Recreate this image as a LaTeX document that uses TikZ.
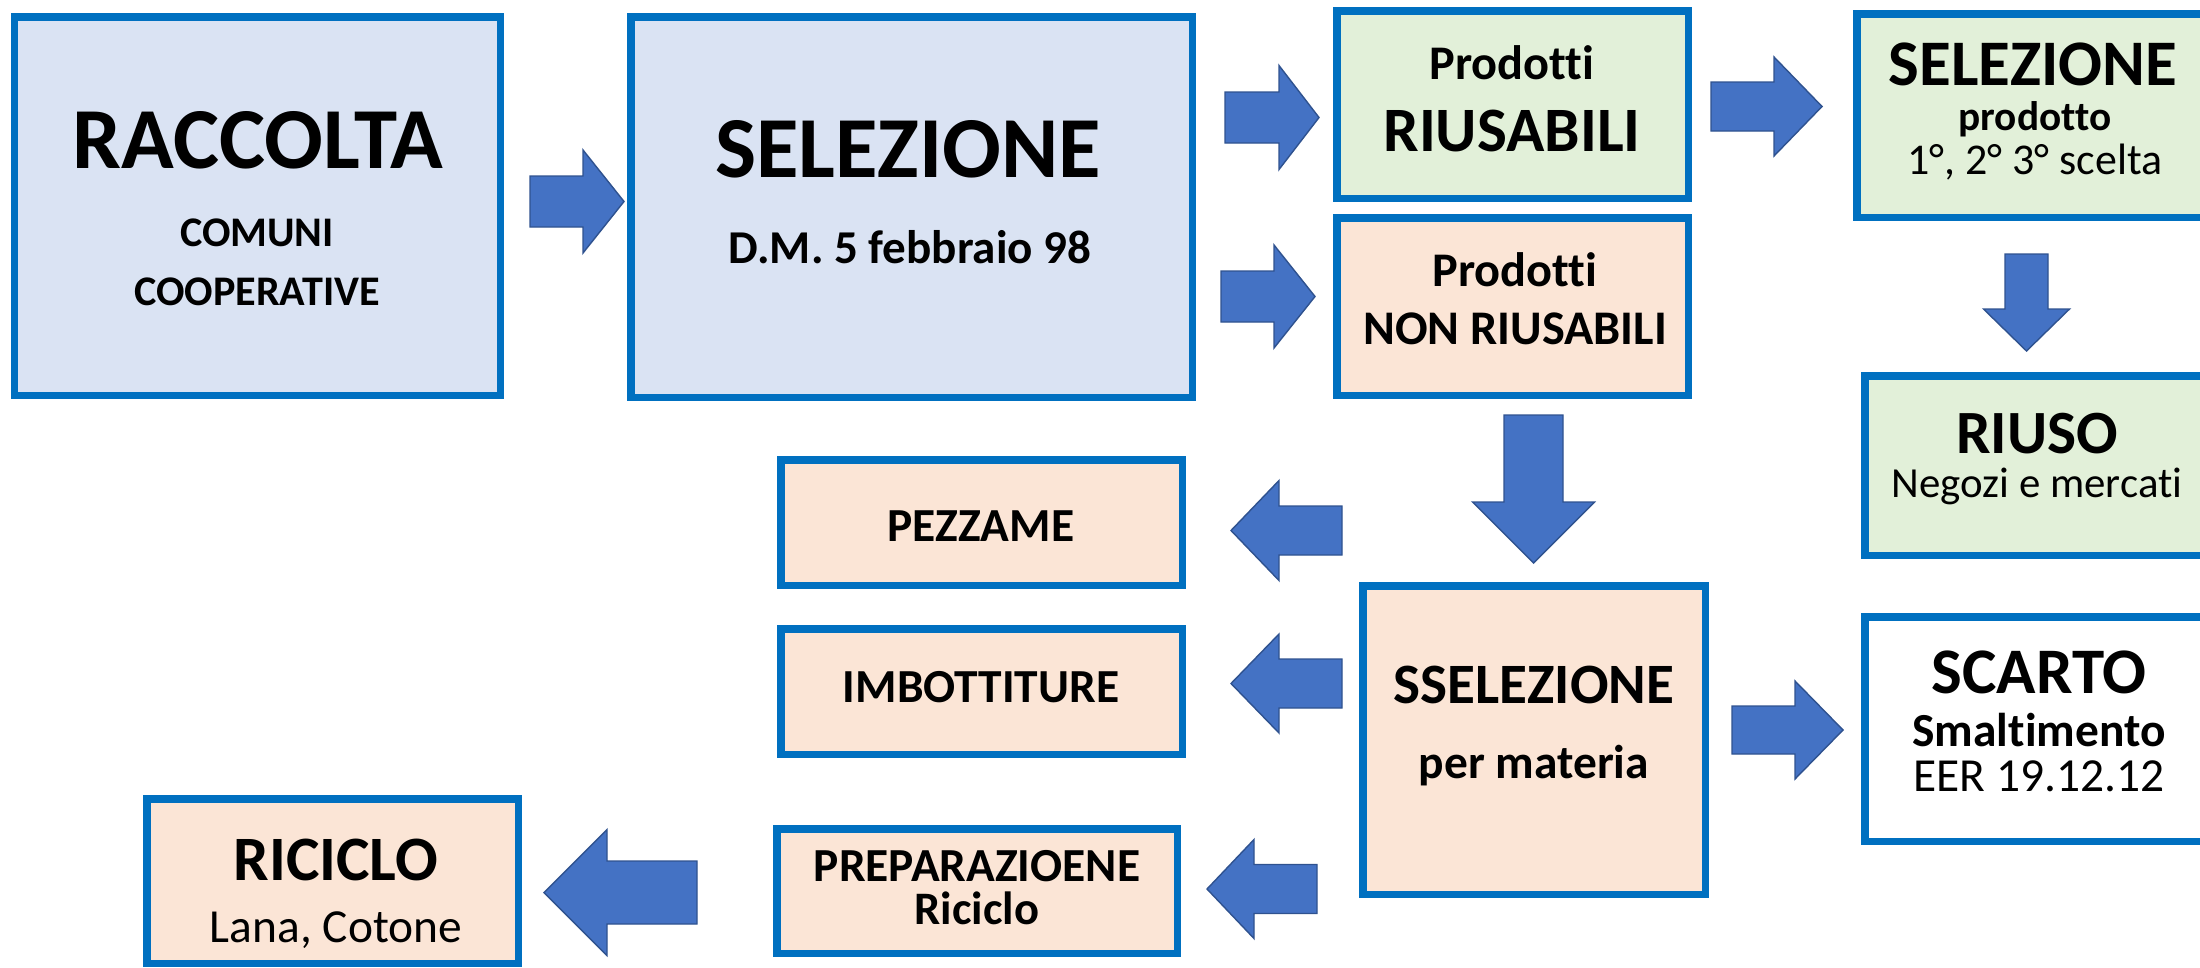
\documentclass[tikz,border=0pt]{standalone}
\usepackage{fontspec}
\setmainfont{Carlito}[Ligatures={NoCommon}]
\definecolor{boxblue}{HTML}{0070C0}
\definecolor{fillblue}{HTML}{DAE3F3}
\definecolor{fillgreen}{HTML}{E2F0D9}
\definecolor{fillpeach}{HTML}{FBE5D6}
\definecolor{arrfill}{HTML}{4472C4}
\definecolor{arredge}{HTML}{2F528F}
\newcommand\fsz[1]{\fontsize{#1}{#1}\selectfont}
% right/left block arrow: tail x, base x, tip x, y centre, shaft half, head half
\newcommand\blkH[6]{\draw[blkarrow] (#1,{#4-#5}) -- (#2,{#4-#5}) -- (#2,{#4-#6}) -- (#3,#4) -- (#2,{#4+#6}) -- (#2,{#4+#5}) -- (#1,{#4+#5}) -- cycle;}
% down block arrow: tail y, base y, tip y, x centre, shaft half, head half
\newcommand\blkV[6]{\draw[blkarrow] ({#4-#5},#1) -- ({#4-#5},#2) -- ({#4-#6},#2) -- (#4,#3) -- ({#4+#6},#2) -- ({#4+#5},#2) -- ({#4+#5},#1) -- cycle;}
\begin{document}
\begin{tikzpicture}[x=0.02cm,y=-0.02cm,
  box/.style={draw=boxblue, line width=0.15cm, rectangle, inner sep=0pt},
  txt/.style={anchor=base, inner sep=0pt, text=black},
  blkarrow/.style={fill=arrfill, draw=arredge, line width=0.8pt, line join=miter}]
\useasboundingbox (0,0) rectangle (2200,967);
\clip (0,0) rectangle (2200,967);
% boxes
\node[box, fill=fillblue,  minimum width=485.5*0.02cm, minimum height=378.5*0.02cm] (rac) at (257.5,206) {};
\node[box, fill=fillblue,  minimum width=561.5*0.02cm, minimum height=380.5*0.02cm] (sel) at (911.5,207) {};
\node[box, fill=fillgreen, minimum width=351.5*0.02cm, minimum height=187.5*0.02cm] (riu) at (1512.5,104.5) {};
\node[box, fill=fillpeach, minimum width=351.5*0.02cm, minimum height=177.5*0.02cm] (non) at (1512.5,306.5) {};
\node[box, fill=fillgreen, minimum width=354.5*0.02cm, minimum height=203.5*0.02cm] (selp) at (2034,115.5) {};
\node[box, fill=fillgreen, minimum width=346.5*0.02cm, minimum height=179.5*0.02cm] (riuso) at (2038,465.5) {};
\node[box, fill=fillpeach, minimum width=401.5*0.02cm, minimum height=125.5*0.02cm] (pez) at (981.5,522.5) {};
\node[box, fill=fillpeach, minimum width=401.5*0.02cm, minimum height=125.5*0.02cm] (imb) at (981.5,691.5) {};
\node[box, fill=fillpeach, minimum width=342.5*0.02cm, minimum height=308.5*0.02cm] (ssel) at (1534,740) {};
\node[box, fill=white,     minimum width=346.5*0.02cm, minimum height=224.5*0.02cm] (scarto) at (2038,729) {};
\node[box, fill=fillpeach, minimum width=400.5*0.02cm, minimum height=124.5*0.02cm] (prep) at (977,891) {};
\node[box, fill=fillpeach, minimum width=371.5*0.02cm, minimum height=164.5*0.02cm] (ric) at (332.5,881) {};
% arrows
\blkH{530}{583}{624}{201.5}{25.5}{51.5}
\blkH{1225}{1279}{1319}{117.5}{25.5}{52}
\blkH{1221}{1274}{1315}{296.5}{25.5}{51.5}
\blkH{1711}{1774}{1822}{106.5}{24.5}{49.5}
\blkH{1732}{1795}{1843}{730}{24}{49}
\blkH{1342}{1279}{1231}{530.5}{24.5}{50}
\blkH{1342}{1279}{1231}{683.5}{24.5}{49.5}
\blkH{1317}{1254}{1207}{889}{24.5}{49.5}
\blkH{697}{607}{544}{892.5}{31.5}{63}
\blkV{254}{309}{351}{2026.5}{21.5}{43}
\blkV{415}{502}{563}{1533.5}{29.5}{61}
% texts
\node[txt, font=\fsz{49.5}\bfseries] (t1) at (258,168) {RACCOLTA};
\node[txt, font=\fsz{24}\bfseries] (t2) at (257,246) {COMUNI};
\node[txt, font=\fsz{24}\bfseries] (t3) at (257,305) {COOPERATIVE};
\node[txt, font=\fsz{49.5}\bfseries] (t4) at (908,177) {SELEZIONE};
\node[txt, font=\fsz{26.8}\bfseries] (t5) at (910,263) {D.M. 5 febbraio 98};
\node[txt, font=\fsz{27.5}\bfseries] (t6) at (1512,79) {Prodotti};
\node[txt, font=\fsz{36}\bfseries] (t7) at (1512,151) {RIUSABILI};
\node[txt, font=\fsz{27.5}\bfseries] (t8) at (1515,286) {Prodotti};
\node[txt, font=\fsz{27.5}\bfseries] (t9) at (1515,344) {NON RIUSABILI};
\node[txt, font=\fsz{37}\bfseries] (t10) at (2033,85) {SELEZIONE};
\node[txt, font=\fsz{23.5}\bfseries] (t11) at (2035,130) {prodotto};
\node[txt, font=\fsz{25}] (t12) at (2035,174) {1°, 2° 3° scelta};
\node[txt, font=\fsz{35}\bfseries] (t13) at (2037,453) {RIUSO};
\node[txt, font=\fsz{24.4}] (t14) at (2037,497) {Negozi e mercati};
\node[txt, font=\fsz{27}\bfseries] (t15) at (981,541) {PEZZAME};
\node[txt, font=\fsz{27}\bfseries] (t16) at (981,702) {IMBOTTITURE};
\node[txt, font=\fsz{32.5}\bfseries] (t17) at (1534,703) {SSELEZIONE};
\node[txt, font=\fsz{27}\bfseries] (t18) at (1534,778) {per materia};
\node[txt, font=\fsz{27}\bfseries] (t19) at (977,881) {PREPARAZIOENE};
\node[txt, font=\fsz{26.5}\bfseries] (t20) at (977,924) {Riciclo};
\node[txt, font=\fsz{36}\bfseries] (t21) at (336,880) {RICICLO};
\node[txt, font=\fsz{27}] (t22) at (336,942) {Lana, Cotone};
\node[txt, font=\fsz{37}\bfseries] (t23) at (2039,693) {SCARTO};
\node[txt, font=\fsz{27}\bfseries] (t24) at (2039,746) {Smaltimento};
\node[txt, font=\fsz{27}] (t25) at (2039,791) {EER 19.12.12};
\end{tikzpicture}
\end{document}
